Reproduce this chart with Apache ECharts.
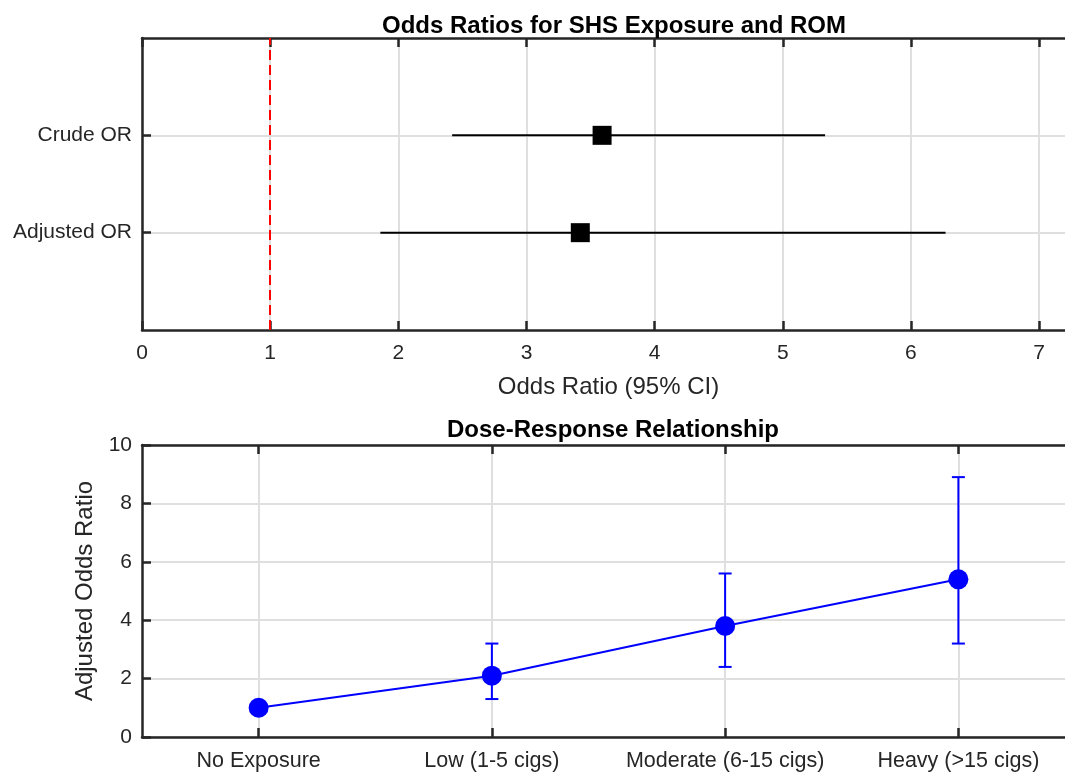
<!DOCTYPE html>
<html>
<head>
<meta charset="utf-8">
<script src="https://cdn.jsdelivr.net/npm/echarts@6/dist/echarts.min.js"></script>
<style>
  html, body { margin: 0; padding: 0; background: #fff; }
  #chart { width: 1065px; height: 772px; }
</style>
</head>
<body>
<div id="chart"></div>
<script>
  // forest plot (top), y positions 1 = adjusted, 2 = crude
  var orLabels = ['Adjusted OR', 'Crude OR'];
  var orValue = [3.42, 3.59];
  var orLow = [1.86, 2.42];
  var orHigh = [6.27, 5.33];
  var orTicks = [0, 1, 2, 3, 4, 5, 6, 7];

  // dose-response (bottom)
  var doseCats = ['No Exposure', 'Low (1-5 cigs)', 'Moderate (6-15 cigs)', 'Heavy (>15 cigs)'];
  var doseOR = [1.0, 2.1, 3.8, 5.4];
  var doseLow = [null, 1.3, 2.4, 3.2];
  var doseHigh = [null, 3.2, 5.6, 8.9];

  var axisCol = '#262626';
  var gridCol = '#dfdfdf';
  var font = 'Liberation Sans, Arial, sans-serif';
  var lw = 2.5;

  var forestRows = orValue.map(function (v, i) { return [orLow[i], orHigh[i], i + 1]; });
  var forestPts = orValue.map(function (v, i) { return [v, i + 1]; });
  var dosePts = doseOR.map(function (v, i) { return [i + 1, v]; });
  var doseBars = [];
  doseOR.forEach(function (v, i) {
    if (doseLow[i] != null) doseBars.push([i + 1, doseLow[i], doseHigh[i]]);
  });

  // box edges (top / right), ticks only
  function frameAxis(extra) {
    var a = {
      axisLine: { show: true, onZero: false, lineStyle: { color: axisCol, width: lw } },
      axisTick: { show: true, inside: true, length: 9, lineStyle: { color: axisCol, width: lw } },
      axisLabel: { show: false },
      splitLine: { show: false }
    };
    for (var k in extra) a[k] = extra[k];
    return a;
  }
  function ticks(vals) {
    return { show: true, inside: true, length: 9, customValues: vals, lineStyle: { color: axisCol, width: lw } };
  }
  var line = { show: true, onZero: false, lineStyle: { color: axisCol, width: lw } };

  var chart = echarts.init(document.getElementById('chart'));
  chart.setOption({
    animation: false,
    textStyle: { fontFamily: font },
    title: [
      { text: 'Odds Ratios for SHS Exposure and ROM', left: 609, top: 9, textAlign: 'center',
        textStyle: { fontSize: 24, fontWeight: 'bold', color: '#000', fontFamily: font } },
      { text: 'Dose-Response Relationship', left: 608, top: 413, textAlign: 'center',
        textStyle: { fontSize: 24, fontWeight: 'bold', color: '#000', fontFamily: font } }
    ],
    grid: [
      { left: 142, top: 38, width: 933, height: 292, outerBoundsMode: 'none' },
      { left: 142, top: 445, width: 933, height: 292, outerBoundsMode: 'none' }
    ],
    xAxis: [
      {
        type: 'value', gridIndex: 0, min: 0, max: 7.28, interval: 1, position: 'bottom',
        name: 'Odds Ratio (95% CI)', nameLocation: 'middle', nameGap: 45,
        nameTextStyle: { fontSize: 24, color: axisCol },
        axisLine: line,
        axisTick: ticks(orTicks),
        axisLabel: { fontSize: 21, color: axisCol, margin: 13, customValues: orTicks },
        splitLine: { show: true, lineStyle: { color: gridCol, width: 2 } }
      },
      frameAxis({ type: 'value', gridIndex: 0, min: 0, max: 7.28, interval: 1, position: 'top',
        axisTick: ticks(orTicks) }),
      {
        type: 'value', gridIndex: 1, min: 0.5, max: 4.5, position: 'bottom',
        axisLine: line,
        axisTick: ticks([1, 2, 3, 4]),
        axisLabel: { fontSize: 21.5, color: axisCol, margin: 13, customValues: [1, 2, 3, 4],
          formatter: function (v) { return doseCats[Math.round(v) - 1]; } },
        splitLine: { show: true, lineStyle: { color: gridCol, width: 2 } }
      },
      frameAxis({ type: 'value', gridIndex: 1, min: 0.5, max: 4.5, position: 'top',
        axisTick: ticks([1, 2, 3, 4]) })
    ],
    yAxis: [
      {
        type: 'value', gridIndex: 0, min: 0, max: 3, interval: 1, position: 'left',
        axisLine: line,
        axisTick: ticks([1, 2]),
        axisLabel: { fontSize: 21, color: axisCol, margin: 10, customValues: [1, 2],
          formatter: function (v) { return orLabels[Math.round(v) - 1]; } },
        splitLine: { show: true, lineStyle: { color: gridCol, width: 2 } }
      },
      frameAxis({ type: 'value', gridIndex: 0, min: 0, max: 3, position: 'right',
        axisTick: ticks([1, 2]) }),
      {
        type: 'value', gridIndex: 1, min: 0, max: 10, interval: 2, position: 'left',
        name: 'Adjusted Odds Ratio', nameLocation: 'middle', nameGap: 39, nameRotate: 90,
        nameTextStyle: { fontSize: 24, color: axisCol },
        axisLine: line,
        axisTick: { show: true, inside: true, length: 9, lineStyle: { color: axisCol, width: lw } },
        axisLabel: { fontSize: 21, color: axisCol, margin: 10 },
        splitLine: { show: true, lineStyle: { color: gridCol, width: 2 } }
      },
      frameAxis({ type: 'value', gridIndex: 1, min: 0, max: 10, interval: 2, position: 'right' })
    ],
    series: [
      {
        type: 'custom', xAxisIndex: 0, yAxisIndex: 0, data: forestRows,
        encode: { x: [0, 1], y: 2 }, z: 3,
        renderItem: function (params, api) {
          var a = api.coord([api.value(0), api.value(2)]);
          var b = api.coord([api.value(1), api.value(2)]);
          return { type: 'line', shape: { x1: a[0], y1: a[1], x2: b[0], y2: b[1] },
            style: { stroke: '#000', lineWidth: 2 } };
        }
      },
      {
        type: 'scatter', xAxisIndex: 0, yAxisIndex: 0, data: forestPts,
        symbol: 'rect', symbolSize: 19, itemStyle: { color: '#000', opacity: 1 }, z: 4,
        markLine: {
          silent: true, symbol: 'none', label: { show: false },
          lineStyle: { color: '#ff0000', type: [10, 5], width: 2 },
          data: [{ xAxis: 1 }]
        }
      },
      {
        type: 'custom', xAxisIndex: 2, yAxisIndex: 2, data: doseBars,
        encode: { x: 0, y: [1, 2] }, z: 3,
        renderItem: function (params, api) {
          var lo = api.coord([api.value(0), api.value(1)]);
          var hi = api.coord([api.value(0), api.value(2)]);
          var c = 6.5;
          var st = { stroke: '#0000ff', lineWidth: 2 };
          return { type: 'group', children: [
            { type: 'line', shape: { x1: lo[0], y1: lo[1], x2: hi[0], y2: hi[1] }, style: st },
            { type: 'line', shape: { x1: lo[0] - c, y1: lo[1], x2: lo[0] + c, y2: lo[1] }, style: st },
            { type: 'line', shape: { x1: hi[0] - c, y1: hi[1], x2: hi[0] + c, y2: hi[1] }, style: st }
          ] };
        }
      },
      {
        type: 'line', xAxisIndex: 2, yAxisIndex: 2, data: dosePts,
        symbol: 'circle', symbolSize: 20, showAllSymbol: true, z: 4,
        lineStyle: { color: '#0000ff', width: 2 },
        itemStyle: { color: '#0000ff' }
      }
    ]
  });
</script>
</body>
</html>
